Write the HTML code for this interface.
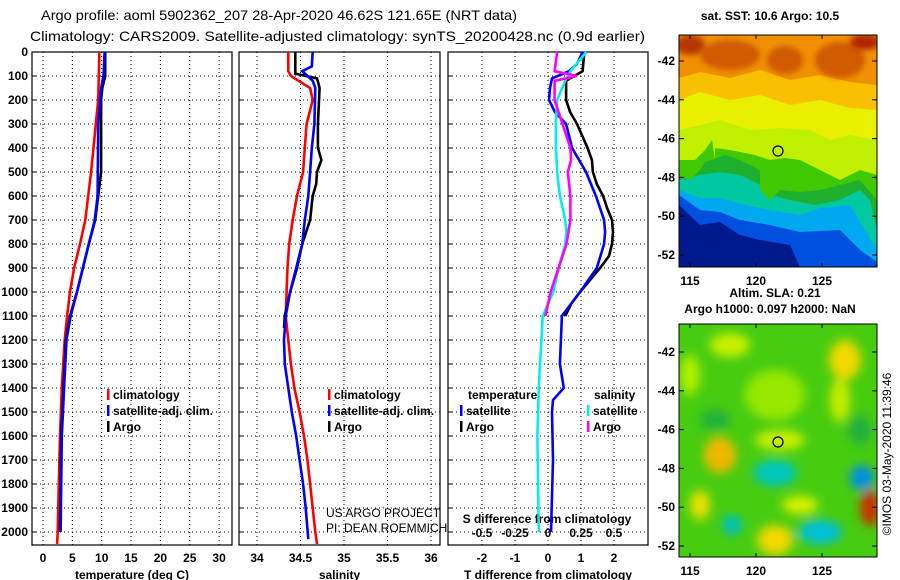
<!DOCTYPE html>
<html><head><meta charset="utf-8"><style>
html,body{margin:0;padding:0;background:#fff;}
svg{display:block;font-family:"Liberation Sans",sans-serif;}
.b{font-weight:bold;font-size:12px;}
.n{font-weight:normal;font-size:12px;}
</style></head><body>
<svg id="chart" width="900" height="580" viewBox="0 0 900 580">
<defs>
<filter id="bl" x="-50%" y="-50%" width="200%" height="200%"><feGaussianBlur stdDeviation="5"/></filter>
<filter id="bl2" x="-50%" y="-50%" width="200%" height="200%"><feGaussianBlur stdDeviation="3"/></filter>
<clipPath id="c1"><rect x="679" y="35" width="198" height="232"/></clipPath>
<clipPath id="c2"><rect x="679" y="324" width="198" height="233"/></clipPath>
</defs>
<text x="41" y="20" font-size="14" textLength="476" lengthAdjust="spacingAndGlyphs">Argo profile: aoml 5902362_207 28-Apr-2020 46.62S 121.65E (NRT data)</text>
<text x="30" y="41" font-size="14" textLength="615" lengthAdjust="spacingAndGlyphs">Climatology: CARS2009. Satellite-adjusted climatology: synTS_20200428.nc (0.9d earlier)</text>

<g id="map1">
<text x="770" y="20" text-anchor="middle" class="b">sat. SST: 10.6 Argo: 10.5</text>
<g clip-path="url(#c1)">
<rect x="679" y="35" width="198" height="232" fill="#001a8c"/>
<path d="M679,35 H877 V267 H800 L790,245 L760,240 L740,235 L720,222 L700,225 L679,205 Z" fill="#0050e0"/>
<path d="M679,35 H877 V262 L860,250 L840,230 L800,232 L770,225 L740,220 L720,212 L700,210 L679,195 Z" fill="#00a8f0"/>
<path d="M679,35 H877 V250 L865,230 L850,205 L820,208 L800,215 L770,210 L745,205 L720,198 L700,198 L679,190 Z" fill="#00c8a0"/>
<path d="M679,35 H877 V230 L870,200 L860,190 L840,200 L815,205 L790,200 L770,195 L760,185 L740,175 L720,172 L700,175 L679,180 Z" fill="#20b030"/>
<path d="M679,35 H877 V200 L860,180 L840,185 L820,190 L800,192 L780,190 L770,200 L760,190 L760,170 L740,160 L725,155 L712,160 L705,162 L700,170 L690,180 L679,175 Z" fill="#40c800"/>
<path d="M679,35 H877 V175 L860,170 L840,180 L820,170 L800,160 L785,158 L770,160 L755,155 L740,152 L730,150 L715,148 L715,160 L712,140 L705,150 L695,160 L679,160 Z" fill="#c0f000"/>
<path d="M679,35 H877 V140 L850,135 L830,140 L810,130 L780,128 L750,130 L720,120 L700,125 L679,130 Z" fill="#e8f000"/>
<path d="M679,35 H877 V110 L850,108 L820,100 L790,105 L760,95 L730,100 L700,92 L679,100 Z" fill="#f8c000"/>
<path d="M679,35 H877 V85 L850,82 L820,75 L790,80 L760,70 L730,78 L700,72 L679,78 Z" fill="#f09000"/>
<ellipse cx="730" cy="55" rx="30" ry="15" fill="#d05a00" filter="url(#bl2)"/>
<ellipse cx="785" cy="60" rx="18" ry="14" fill="#d05a00" filter="url(#bl2)"/>
<ellipse cx="840" cy="60" rx="25" ry="18" fill="#d05a00" filter="url(#bl2)"/>
<ellipse cx="690" cy="45" rx="15" ry="10" fill="#b83800" filter="url(#bl2)"/>
<ellipse cx="865" cy="42" rx="15" ry="8" fill="#b02800" filter="url(#bl2)"/>
</g>
<rect x="679" y="35" width="198" height="232" fill="none" stroke="#000" stroke-width="1"/>
<circle cx="778" cy="151" r="5" fill="none" stroke="#000" stroke-width="1.2"/>
</g>

<g id="map2">
<text x="775" y="297" text-anchor="middle" class="b">Altim. SLA: 0.21</text>
<text x="770" y="313" text-anchor="middle" class="b">Argo h1000: 0.097 h2000: NaN</text>
<g clip-path="url(#c2)">
<rect x="679" y="324" width="198" height="233" fill="#48cc10"/>
<g filter="url(#bl)">
<ellipse cx="730" cy="345" rx="20" ry="12" fill="#c8f000"/>
<ellipse cx="690" cy="375" rx="10" ry="20" fill="#b0f000"/>
<ellipse cx="775" cy="395" rx="30" ry="25" fill="#98e800"/>
<ellipse cx="780" cy="440" rx="25" ry="10" fill="#c8f000"/>
<ellipse cx="840" cy="400" rx="10" ry="22" fill="#c8ec00"/>
<ellipse cx="845" cy="360" rx="16" ry="20" fill="#f0d800"/>
<ellipse cx="720" cy="455" rx="16" ry="18" fill="#f0b800"/>
<ellipse cx="700" cy="505" rx="10" ry="15" fill="#e8e000"/>
<ellipse cx="775" cy="540" rx="18" ry="15" fill="#f0d800"/>
<ellipse cx="800" cy="505" rx="18" ry="9" fill="#d8f000"/>
<ellipse cx="870" cy="508" rx="10" ry="18" fill="#c83000"/>
<ellipse cx="775" cy="473" rx="22" ry="13" fill="#00c8c0"/>
<ellipse cx="820" cy="532" rx="22" ry="12" fill="#00c0d8"/>
<ellipse cx="732" cy="525" rx="10" ry="10" fill="#00c0c0"/>
<ellipse cx="862" cy="478" rx="12" ry="13" fill="#0090e0"/>
<ellipse cx="715" cy="420" rx="15" ry="10" fill="#20b040"/>
<ellipse cx="860" cy="430" rx="12" ry="15" fill="#20b040"/>
</g>
</g>
<rect x="679" y="324" width="198" height="233" fill="none" stroke="#000" stroke-width="1"/>
<circle cx="778" cy="442" r="5" fill="none" stroke="#000" stroke-width="1.2"/>
</g>
<text transform="translate(891,454) rotate(-90)" text-anchor="middle" font-size="12">©IMOS 03-May-2020 11:39:46</text>
</svg>
<script>
// ---- data ----
const depthTicks = [0,100,200,300,400,500,600,700,800,900,1000,1100,1200,1300,1400,1500,1600,1700,1800,1900,2000];
const tempTicks = [0,5,10,15,20,25,30];
const salTicks = [34,34.5,35,35.5,36];
const tdiffTicks = [-2,-1,0,1,2];
const sdiffTicks = [-0.5,-0.25,0,0.25,0.5];
const latTicks = [-42,-44,-46,-48,-50,-52];
const lonTicks = [115,120,125];

const tClimD = [0,200,300,400,500,600,700,800,900,1000,1100,1200,1400,1600,1800,2000,2050];
const tClim  = [9.6,9.4,9.0,8.6,8.2,7.7,7.2,6.3,5.3,4.6,4.1,3.7,3.2,2.9,2.7,2.5,2.4];
const tSatD = [0,100,150,300,600,700,800,900,1000,1100,1200,1400,1600,2000];
const tSat  = [10.5,10.3,9.9,9.4,9.3,8.8,7.8,6.8,5.8,4.7,4.0,3.6,3.2,3.0];
const tArgoD = [0,100,150,200,500,600,700,800,900,1000,1100,1200,1400,1600,2000];
const tArgo  = [10.6,10.6,10.1,9.9,9.9,9.4,8.9,7.8,6.8,5.8,4.6,3.9,3.5,3.1,2.9];

const sClimD = [0,80,100,150,200,300,400,500,600,700,800,900,1000,1100,1200,1300,1400,1500,1600,1700,1800,1900,2000,2050];
const sClim  = [34.36,34.36,34.39,34.61,34.64,34.57,34.55,34.53,34.46,34.41,34.37,34.35,34.34,34.33,34.36,34.39,34.43,34.49,34.54,34.58,34.61,34.64,34.67,34.69];
const sSatD = [0,60,80,90,120,150,300,400,500,600,700,800,900,1000,1100,1200,1300,1400,1500,1600,1700,1800,1900,2030];
const sSat  = [34.64,34.63,34.52,34.55,34.64,34.67,34.66,34.63,34.61,34.59,34.55,34.52,34.45,34.38,34.33,34.31,34.32,34.36,34.40,34.45,34.49,34.53,34.56,34.59];
const sArgoD = [0,90,110,150,300,400,450,500,550,600,700,800,900,1000,1100,1150];
const sArgo  = [34.44,34.44,34.69,34.72,34.70,34.70,34.74,34.69,34.68,34.64,34.61,34.52,34.46,34.38,34.32,34.31];

const dTArgoD = [0,80,120,200,250,300,400,450,500,550,600,650,700,750,800,850,900,1000,1050,1100];
const dTArgo  = [1.1,1.05,0.55,0.55,0.67,0.88,1.2,1.33,1.36,1.48,1.67,1.79,1.94,1.97,1.94,1.85,1.58,0.97,0.7,0.52];
const dTSatD = [0,50,80,110,150,200,250,300,400,500,600,700,750,800,900,1000,1100,1200,1300,1400,1450,1500,1700,2000];
const dTSat  = [1.05,0.88,0.64,0.12,0.06,0.03,0.21,0.55,0.73,1.15,1.45,1.7,1.73,1.7,1.48,0.97,0.42,0.39,0.36,0.48,0.15,0.12,0.15,0.09];
const dSSatD = [0,80,120,200,300,400,500,600,700,750,800,900,1000,1100,1200,1400,1600,1800,2000];
const dSSat  = [0.29,0.17,0.13,0.07,0.06,0.06,0.07,0.09,0.13,0.14,0.13,0.08,0.04,-0.04,-0.05,-0.07,-0.08,-0.075,-0.07];
const dSArgoD = [0,80,100,120,200,300,400,450,500,600,700,800,900,1000,1100];
const dSArgo  = [0.07,0.05,0.22,0.05,0.05,0.11,0.17,0.175,0.15,0.17,0.17,0.14,0.08,0.02,-0.02];

// ---- scales ----
const svg = document.getElementById('chart');
const NS = 'http://www.w3.org/2000/svg';
const TOP = 52, BOT = 545;
const yD = d => TOP + d * 0.24;
const xT = v => 43 + v * 5.87;
const xS = v => 257 + (v - 34) * 87;
const xDT = v => 548 + v * 33;
const xDS = v => 548 + v * 132;
const yLat1 = v => 61 + (-42 - v) * 19.4;
const yLat2 = v => 352 + (-42 - v) * 19.4;
const xLon = v => 690 + (v - 115) * 13.2;

function mk(tag, attrs, parent) {
  const e = document.createElementNS(NS, tag);
  for (const k in attrs) e.setAttribute(k, attrs[k]);
  (parent || svg).appendChild(e);
  return e;
}
function txt(x, y, s, anchor, cls, parent) {
  const t = mk('text', {x: x, y: y, 'text-anchor': anchor || 'middle', 'class': cls || 'b'}, parent);
  t.textContent = s;
  return t;
}

const panels = [
  {x0: 32, x1: 232, ticks: tempTicks, sx: xT, label: 'temperature (deg C)', name: 'temperature-panel', ylabels: true},
  {x0: 239, x1: 440, ticks: salTicks, sx: xS, label: 'salinity', name: 'salinity-panel', ylabels: false},
  {x0: 448, x1: 648, ticks: tdiffTicks, sx: xDT, label: 'T difference from climatology', name: 'difference-panel', ylabels: false}
];

panels.forEach(p => {
  const g = mk('g', {});
  
  
  depthTicks.forEach(d => {
    const gl = mk('line', {x1: p.x0, x2: p.x1, y1: yD(d), y2: yD(d), stroke: '#000', 'stroke-width': 1, 'stroke-dasharray': '1,3'}, g);
    
    
    mk('line', {x1: p.x0, x2: p.x0 + 4, y1: yD(d), y2: yD(d), stroke: '#000'}, g);
    if (p.ylabels) {
      const t = txt(p.x0 - 4, yD(d) + 4, String(d), 'end', 'b', g);
      
      
    }
  });
  p.ticks.forEach(v => {
    const gl = mk('line', {x1: p.sx(v), x2: p.sx(v), y1: TOP, y2: BOT, stroke: '#000', 'stroke-width': 1, 'stroke-dasharray': '1,3'}, g);
    
    
    const t = txt(p.sx(v), 562, String(v), 'middle', 'b', g);
    
    
  });
  const fr = mk('rect', {x: p.x0, y: TOP, width: p.x1 - p.x0, height: BOT - TOP, fill: 'none', stroke: '#000', 'stroke-width': 1.2}, g);
  
  
  const xl = txt((p.x0 + p.x1) / 2, 579, p.label, 'middle', 'b', g);
  
  
});

// S difference secondary axis labels
sdiffTicks.forEach(v => {
  const t = txt(xDS(v), 537, String(v), 'middle', 'b');
  
  
});
const sdt = txt(547, 523, 'S difference from climatology', 'middle', 'b');



function line(ds, vs, sx, color, name) {
  const pts = ds.map((d, i) => sx(vs[i]).toFixed(1) + ',' + yD(d).toFixed(1)).join(' ');
  const pl = mk('polyline', {points: pts, fill: 'none', stroke: color, 'stroke-width': 2.6, 'stroke-linejoin': 'miter'});
  
  
}
line(tClimD, tClim, xT, '#ff0000', 'temp-climatology-line');
line(tArgoD, tArgo, xT, '#000000', 'temp-argo-line');
line(tSatD, tSat, xT, '#0000ff', 'temp-satellite-line');
line(sClimD, sClim, xS, '#ff0000', 'sal-climatology-line');
line(sArgoD, sArgo, xS, '#000000', 'sal-argo-line');
line(sSatD, sSat, xS, '#0000ff', 'sal-satellite-line');
line(dTArgoD, dTArgo, xDT, '#000000', 'tdiff-argo-line');
line(dTSatD, dTSat, xDT, '#0000ff', 'tdiff-satellite-line');
line(dSSatD, dSSat, xDS, '#00eeee', 'sdiff-satellite-line');
line(dSArgoD, dSArgo, xDS, '#ff00ff', 'sdiff-argo-line');

function legend(x, y, color, label) {
  const r = mk('rect', {x: x, y: y - 10, width: 2.5, height: 11, fill: color});
  
  
  const t = txt(x + 6, y, label, 'start', 'b');
  
  
}
legend(107, 399, '#ff0000', 'climatology');
legend(107, 415, '#0000ff', 'satellite-adj. clim.');
legend(107, 431, '#000000', 'Argo');
legend(328, 399, '#ff0000', 'climatology');
legend(328, 415, '#0000ff', 'satellite-adj. clim.');
legend(328, 431, '#000000', 'Argo');
const lt = txt(468, 399, 'temperature', 'start', 'b');


const ls = txt(594, 399, 'salinity', 'start', 'b');


legend(460, 415, '#0000ff', 'satellite');
legend(460, 431, '#000000', 'Argo');
legend(587, 415, '#00eeee', 'satellite');
legend(587, 431, '#ff00ff', 'Argo');

const c1 = txt(326, 517, 'US ARGO PROJECT', 'start', 'n');


const c2 = txt(326, 532, 'PI: DEAN ROEMMICH', 'start', 'n');



// map axes
[[yLat1, 35, 267], [yLat2, 324, 557]].forEach(([fy, top, bot], mi) => {
  latTicks.forEach(v => {
    mk('line', {x1: 679, x2: 684, y1: fy(v), y2: fy(v), stroke: '#000'});
    mk('line', {x1: 872, x2: 877, y1: fy(v), y2: fy(v), stroke: '#000'});
    const t = txt(675, fy(v) + 4, String(v), 'end', 'b');
    
    
  });
  lonTicks.forEach(v => {
    mk('line', {x1: xLon(v), x2: xLon(v), y1: top, y2: top + 4, stroke: '#000'});
    mk('line', {x1: xLon(v), x2: xLon(v), y1: bot - 4, y2: bot, stroke: '#000'});
    const t = txt(xLon(v), bot + 18, String(v), 'middle', 'b');
    
    
  });
});
</script>
</body></html>
